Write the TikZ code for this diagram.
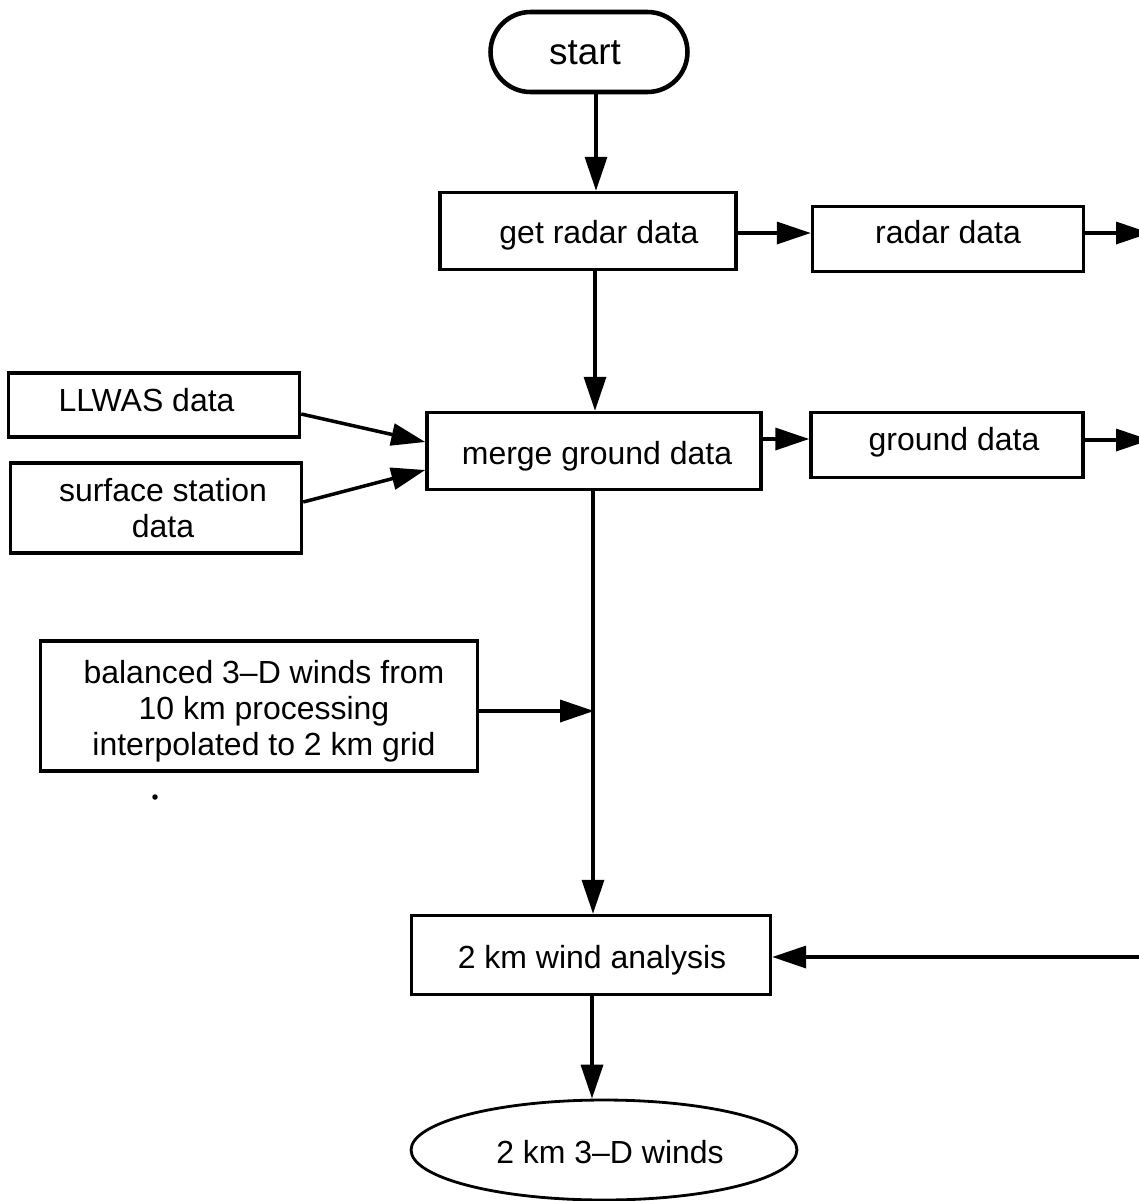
\documentclass[tikz,border=0pt]{standalone}
\usepackage{fontspec}
\setmainfont{Liberation Sans}
\usetikzlibrary{arrows.meta,shapes.geometric}
\newcommand\shtext[3]{\hspace*{#1}\raisebox{#2}[\height][\depth]{\begin{tabular}{@{}c@{}}#3\end{tabular}}}
\tikzset{
  box/.style={draw,line width=2pt,rectangle,inner sep=0pt,font=\fontsize{18.2}{20.4}\selectfont},
  arr/.style={line width=2pt,-{Triangle[length=0.68cm,width=0.44cm]}}
}
\begin{document}
\begin{tikzpicture}[x=0.02cm,y=-0.02cm]
\clip (0,0) rectangle (1139,1201);
\fill[white] (0,0) rectangle (1139,1201);
% nodes
\node[box,line width=2.6pt,rounded corners=0.8cm,minimum width=3.94cm,minimum height=1.6cm,font=\fontsize{21}{24}\selectfont] (start) at (589,52) {\shtext{-0.16cm}{-0.08cm}{start}};
\node[box,minimum width=5.92cm,minimum height=1.54cm] (grd) at (588,231) {\shtext{0.44cm}{-0.1cm}{get radar data}};
\node[box,minimum width=5.42cm,minimum height=1.30cm] (rd) at (948,239) {\shtext{0cm}{0.06cm}{radar data}};
\node[box,minimum width=5.82cm,minimum height=1.28cm] (llwas) at (154,405) {\shtext{-0.3cm}{0.02cm}{LLWAS data}};
\node[box,minimum width=5.82cm,minimum height=1.80cm] (surf) at (156,508) {\shtext{0.28cm}{-0.08cm}{surface station\\data}};
\node[box,minimum width=6.68cm,minimum height=1.54cm] (merge) at (594,451) {\shtext{0.12cm}{-0.12cm}{merge ground data}};
\node[box,minimum width=5.44cm,minimum height=1.30cm] (gd) at (947,445) {\shtext{0.28cm}{0.04cm}{ground data}};
\node[box,minimum width=8.74cm,minimum height=2.60cm] (bal) at (259,706) {\shtext{0.2cm}{-0.12cm}{balanced 3--D winds from\\10 km processing\\interpolated to 2 km grid}};
\node[box,minimum width=7.18cm,minimum height=1.58cm] (wind) at (591,955) {\shtext{0.04cm}{-0.12cm}{2 km wind analysis}};
\node[box,ellipse,minimum width=7.72cm,minimum height=2.0cm,line width=1.6pt] (out) at (604,1150) {\shtext{0.24cm}{-0.12cm}{2 km 3--D winds}};
\fill (155,797) circle (0.055cm);
% connectors
\coordinate (edge) at (1150,0);
\coordinate (rin) at (1139,957);
\draw[arr] ([xshift=0.14cm]start.south) -- ([xshift=0.14cm]start.south |- grd.north);
\draw[arr] ([yshift=-0.04cm]grd.east) -- ([yshift=-0.04cm]grd.east -| rd.west);
\draw[arr] ([yshift=0.12cm]rd.east) -- ([yshift=0.12cm]rd.east -| edge);
\draw[arr] ([xshift=0.14cm]grd.south) -- ([xshift=0.14cm]grd.south |- merge.north);
\draw[arr] ([yshift=-0.18cm]llwas.east) -- ([yshift=0.18cm]merge.west);
\draw[arr] ([yshift=0.12cm]surf.east) -- ([yshift=-0.38cm]merge.west);
\draw[arr] ([yshift=0.24cm]merge.east) -- ([yshift=0.24cm]merge.east -| gd.west);
\draw[arr] ([yshift=0.10cm]gd.east) -- ([yshift=0.10cm]gd.east -| edge);
\draw[arr] ([xshift=-0.02cm]merge.south) -- ([xshift=-0.02cm]merge.south |- wind.north);
\draw[arr] ([yshift=-0.10cm]bal.east) -- ([yshift=-0.10cm]bal.east -| merge.south);
\draw[arr] (rin) -- (rin -| wind.east);
\draw[arr] ([xshift=0.02cm]wind.south) -- ([xshift=0.02cm]wind.south |- out.north);
\end{tikzpicture}
\end{document}
